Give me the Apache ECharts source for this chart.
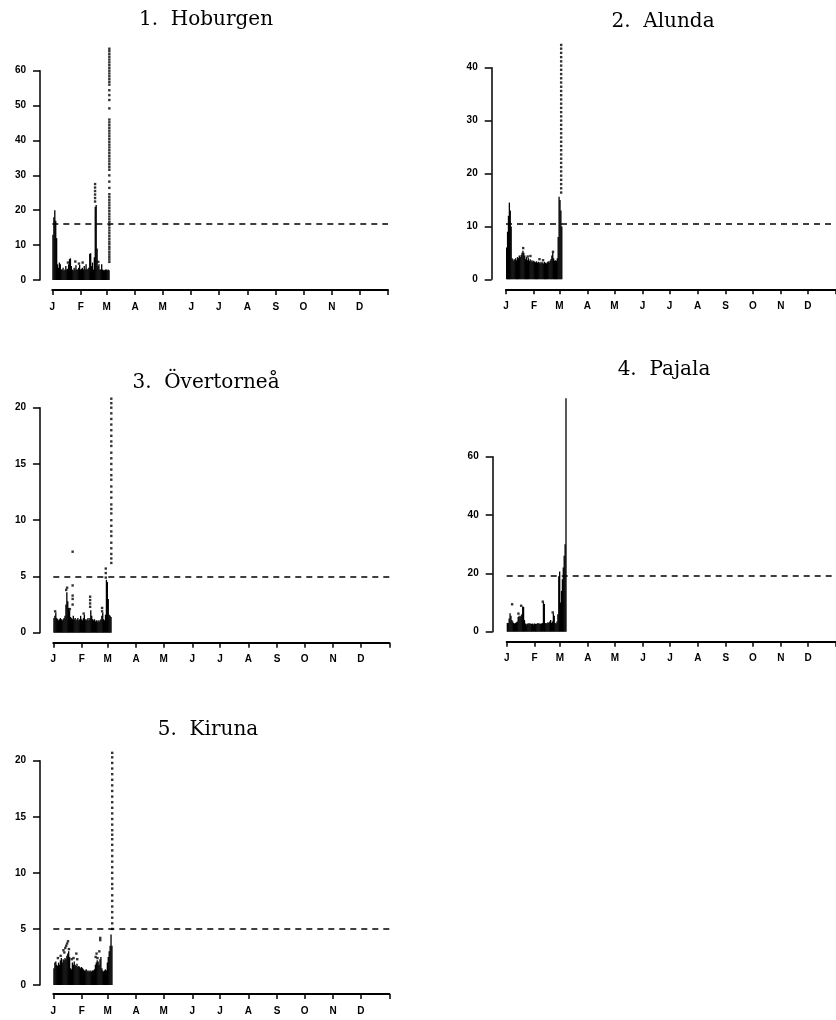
<!DOCTYPE html>
<html><head><meta charset="utf-8">
<script src="https://cdn.jsdelivr.net/npm/echarts@6/dist/echarts.min.js"></script>
<style>html,body{margin:0;padding:0;background:#fff}#c{width:836px;height:1020px}</style>
</head><body><div id="c"></div>
<script>
// ---- axis labels ----
const monthLabels = ['J','F','M','A','M','J','J','A','S','O','N','D'];
const monthStartDays = [0,31,59,90,120,151,181,212,243,273,304,334,365];

// ---- station titles ----
const stationTitles = ['1.  Hoburgen','2.  Alunda','3.  Övertorneå','4.  Pajala','5.  Kiruna'];

// ---- y tick labels ----
const hoburgenTicks = [0,10,20,30,40,50,60];
const alundaTicks = [0,10,20,30,40];
const overtorneaTicks = [0,5,10,15,20];
const pajalaTicks = [0,20,40,60];
const kirunaTicks = [0,5,10,15,20];

// ---- thresholds (dashed lines) ----
const thresholds = [16, 10.5, 5, 19.2, 5];

// ---- daily maxima of the solid mass (day 0 = 1 Jan) ----
const hoburgenDaily = [13,18,20,17,12,4.5,3.5,5,4.5,3,3,3.5,2.7,3,4,3,3.2,4.5,6,6.2,4,3,2.7,3.5,3,4.2,3,3,3.5,4.3,3,3.2,3.5,3,4,3,4.5,3.2,3,3.5,7.5,7.7,4,5,3,6.5,21,21.5,9,4,4.5,3,3,4.5,3,2.8,2.8,3,3,2.8,3,2.8];
const alundaDaily = [6,9,12,14.5,13,10,4,3.8,3.5,3.8,4,3.6,4.2,4,4.5,4.2,4.6,5,5.4,5,4.5,3.8,4.2,3.6,4,3.5,3.8,3.4,3.6,3.3,3.5,3.3,3.2,3.4,3.1,3.3,3.2,3,3.3,3.1,3.2,3,3.3,3.1,3,3.2,3.4,3.2,3.5,3.8,4.5,5,4,3.5,3.6,3.5,4,8,15.6,15,13,10];
const overtorneaDaily = [1.3,1.5,1.8,1.3,1.2,1.1,1.2,1.3,1.2,1.1,1.2,1.3,1.5,2.5,3.6,2.8,2.2,2,1.4,1.3,1.2,1.5,1.2,1.3,1.1,1.2,1.3,1.1,1.2,1.5,1.2,1.1,1.3,1.6,1.2,1.1,1.2,1.3,1.1,1.3,2,1.5,1.2,1.1,1.2,1,1.1,1,1.1,1,1.1,1.2,1.5,1.8,1.2,1.1,1.6,4.7,4.5,3,1.6,1.5,1.4];
const pajalaDaily = [3,3,4.5,6.3,5.5,4,3.5,3,2.8,3,3.2,3.5,5,5.5,5,5.5,6,8.6,8.5,4,2.8,2.5,2.8,2.6,3,2.7,2.8,2.6,2.8,2.5,2.8,2.7,2.6,2.8,3,2.7,2.8,2.7,2.8,3,10,9.5,3,2.8,3,3.2,3,3.5,4,3,3.5,6.3,5.5,3,2.8,3.5,6,19,20.6,10,14,18,22,26,30,80];
const kirunaDaily = [1.5,2,2.1,1.8,1.7,2,1.8,2.2,2.4,2,2.3,2.2,2.4,2.3,2.6,2.8,3,2.5,1.5,1.4,2,1.8,2.1,1.8,1.7,1.9,1.6,1.7,1.6,1.5,1.6,1.5,1.4,1.3,1.3,1.4,1.3,1.2,1.3,1.2,1.3,1.2,1.3,1.3,1.4,1.8,2,2.2,2.1,1.8,2.3,2.5,1.5,1.3,1.2,1.3,1.4,1.3,2,2.5,3,3.5,4.5,3.5];

// ---- isolated points [day, value] ----
const hoburgenDots = [[46.5,22.5],[46.5,23.5],[46.5,24.5],[46.5,25.5],[46.5,26.5],[46.5,27.5],[17,5],[25,5.3],[29,4.7],[33,5],[50,5.2]];
const alundaDots = [[19,5.9],[24,4.3],[27,4.4],[37,3.8],[41,3.6],[52,5.2]];
const overtorneaDots = [[2,1.9],[14,3.8],[15,4.0],[21,7.2],[21,4.2],[21,3.3],[21,3.0],[21,2.5],[18,2.1],[40,3.2],[40,2.9],[40,2.6],[40,2.3],[33,1.7],[53,1.9],[53,2.2],[57,5.7],[57,5.3],[57,4.9]];
const pajalaDots = [[6,9.4],[13,6.2],[16,8.9],[40,10.3],[51,6.6]];
const kirunaDots = [[5,2.4],[8,2.6],[11,3.1],[12,2.9],[13,3.3],[14,3.5],[15,3.7],[16,3.9],[17,3.2],[20,2.3],[22,2.4],[25,2.8],[26,2.3],[46,2.5],[47,2.8],[48,2.4],[50,3.0],[51,4.0],[51,4.2]];

// ---- early-March spike (dotted column) ----
const spikeDays = [62, 61, 63, 65, 64];
const hoburgenSpike = [5.2,5.9,6.6,7.3,8,8.8,9.5,10.3,11,11.8,12.6,13.4,14.2,15,15.8,16.6,17.4,18.2,19,19.8,20.6,21.4,22.2,23,23.8,24.6,26.4,28.2,30,31.6,32.4,33.2,34,34.8,35.6,36.4,37.2,38,38.8,39.6,40.4,41.2,42,42.8,43.6,44.4,45.2,46,49.2,51.6,53,54.4,56,56.8,57.6,58.4,59.2,60,60.8,61.6,62.4,63.2,64,64.8,65.6,66.3];
const alundaSpike = [16.4,17.2,18,18.8,19.6,20.4,21.2,22,22.8,23.6,24.4,25.2,26,26.8,27.6,28.4,29.2,30,30.8,31.6,32.4,33.2,34,34.8,35.6,36.4,37.2,38,38.8,39.6,40.4,41.2,42,42.8,43.6,44.3];
const overtorneaSpike = [6.2,6.6,7,7.5,8,8.6,9,9.5,10,10.6,11,11.4,12,12.5,13,13.6,14,14.5,15,15.5,16,16.6,17,17.5,18,18.5,19,19.5,20,20.4,20.8];
const pajalaSpike = [];
const kirunaSpike = [5,5.5,6,6.5,7,7.5,8,8.6,9,9.5,10,10.5,11,11.5,12,12.5,13,13.4,13.8,14.3,14.8,15.3,15.8,16.3,16.8,17.3,17.8,18.3,18.8,19.3,19.8,20.3,20.7];

// ---- layout (pixels) ----
const layout = [
  {left:52.3, right:448, top:70.7, bottom:740, yOff:12.3, xOff:10, tx:206, ty:27},
  {left:506, right:-6, top:67.7, bottom:740.7, yOff:14.3, xOff:10, tx:663, ty:29},
  {left:53.3, right:446.7, top:407.7, bottom:387.3, yOff:13.3, xOff:10, tx:206, ty:390},
  {left:506.7, right:-6.7, top:456.7, bottom:388.3, yOff:14, xOff:10, tx:664, ty:377},
  {left:53.3, right:446.7, top:760.7, bottom:35, yOff:13.3, xOff:9, tx:208, ty:737}
];

const dailyAll = [hoburgenDaily, alundaDaily, overtorneaDaily, pajalaDaily, kirunaDaily];
const dotsAll = [hoburgenDots, alundaDots, overtorneaDots, pajalaDots, kirunaDots];
const spikeAll = [hoburgenSpike, alundaSpike, overtorneaSpike, pajalaSpike, kirunaSpike];
const ticksAll = [hoburgenTicks, alundaTicks, overtorneaTicks, pajalaTicks, kirunaTicks];

const labelFont = {fontFamily:'"Liberation Sans", Arial, sans-serif', fontWeight:'bold', fontSize:10, color:'#000'};

const grid = [], xAxis = [], yAxis = [], series = [], graphic = [];
layout.forEach((L, i) => {
  grid.push({left:L.left, right:L.right, top:L.top, bottom:L.bottom, containLabel:false});
  xAxis.push({
    type:'value', gridIndex:i, min:0, max:365, offset:L.xOff,
    axisLine:{show:true, onZero:false, lineStyle:{color:'#000', width:2}},
    axisTick:{show:true, customValues:monthStartDays, length:5, lineStyle:{color:'#000', width:1.5}},
    axisLabel:Object.assign({customValues:monthStartDays.slice(0,12), margin:12,
      formatter:v => monthLabels[monthStartDays.indexOf(v)]}, labelFont),
    splitLine:{show:false}
  });
  const t = ticksAll[i];
  yAxis.push({
    type:'value', gridIndex:i, min:t[0], max:t[t.length-1], interval:t[1]-t[0], offset:L.yOff,
    axisLine:{show:true, onZero:false, lineStyle:{color:'#000', width:1.5}},
    axisTick:{show:true, length:7, lineStyle:{color:'#000', width:1.5}},
    axisLabel:Object.assign({margin:14}, labelFont),
    splitLine:{show:false}
  });
  series.push({
    type:'custom', xAxisIndex:i, yAxisIndex:i, clip:false, silent:true,
    data: dailyAll[i].map((v, d) => [d, v]),
    encode:{x:0, y:1},
    renderItem:(params, api) => {
      const d = api.value(0), v = api.value(1);
      const p0 = api.coord([d, 0]), p1 = api.coord([d + 1, v]);
      return {type:'rect', shape:{x:p0[0], y:p1[1], width:Math.max(p1[0]-p0[0]+0.4, 1.2), height:p0[1]-p1[1]},
              style:{fill:'#000'}};
    }
  });
  const pts = dotsAll[i].concat(spikeAll[i].map(v => [spikeDays[i], v]));
  series.push({
    type:'scatter', xAxisIndex:i, yAxisIndex:i, clip:false, silent:true,
    symbol:'rect', symbolSize:2.4, itemStyle:{color:'#000'},
    data: pts,
    markLine:{silent:true, symbol:['none','none'], label:{show:false},
      lineStyle:{type:[6,5], color:'#000', width:1.5},
      data:[{yAxis:thresholds[i]}]}
  });
  graphic.push({type:'text', x:L.tx, y:L.ty - 7,
    style:{text:stationTitles[i], font:'20px "DejaVu Serif", serif', fill:'#000', align:'center', verticalAlign:'middle'}});
});

const chart = echarts.init(document.getElementById('c'), null, {renderer:'canvas'});
chart.setOption({animation:false, backgroundColor:'#fff', grid, xAxis, yAxis, series, graphic});
</script></body></html>
